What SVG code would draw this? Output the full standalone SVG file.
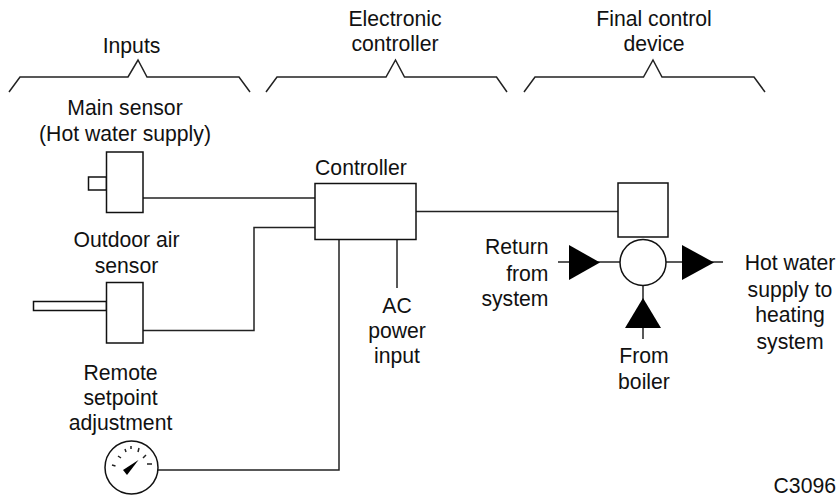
<svg xmlns="http://www.w3.org/2000/svg" width="837" height="498" viewBox="0 0 837 498">
<style>
text{font-family:"Liberation Sans",Arial,sans-serif;font-size:21.200px;fill:#111;text-anchor:middle}
.s{fill:#fff;stroke:#111;stroke-width:1.5}
.l{fill:none;stroke:#222;stroke-width:1.5}
.f{fill:#000;stroke:none}
</style>
<rect width="837" height="498" fill="#fff"/>
<g id="connectors">
<path class="l" d="M143 198H315"/>
<path class="l" d="M143 330.500H254V227.500H315"/>
<path class="l" d="M158 470H339V239.500"/>
<path class="l" d="M397 239.500V288"/>
<path class="l" d="M416 211.500H618"/>
<path class="l" d="M558 262H620"/>
<path class="l" d="M666 262H723"/>
<path class="l" d="M643 286V339"/>
</g>
<g id="bracket-inputs"><path class="l" d="M9 92L20 77H128L138 60L147 77H239L250 92"/><text x="131.500" y="53">Inputs</text></g>
<g id="bracket-controller"><path class="l" d="M266 92L277 77H386L395.500 60L404.500 77H496.500L507 92"/><text x="395" y="26">Electronic</text><text x="395" y="51">controller</text></g>
<g id="bracket-final"><path class="l" d="M524 92L535 77H643.500L653 60L662 77H754L765 92"/><text x="654" y="26">Final control</text><text x="654" y="51">device</text></g>
<g id="main-sensor">
<text x="125" y="115">Main sensor</text><text x="125" y="141">(Hot water supply)</text>
<rect class="s" x="88.500" y="177" width="18" height="13"/>
<rect class="s" x="106.500" y="152" width="36.500" height="60.500"/>
</g>
<g id="outdoor-sensor">
<text x="126.500" y="247">Outdoor air</text><text x="126.500" y="273">sensor</text>
<rect class="s" x="33.500" y="301.500" width="73" height="9"/>
<rect class="s" x="106.500" y="282.500" width="36.500" height="60.500"/>
</g>
<g id="remote-setpoint">
<text x="120.500" y="380">Remote</text><text x="120.500" y="405">setpoint</text><text x="120.500" y="430">adjustment</text>
<circle class="s" cx="131.500" cy="467.500" r="26.500"/>
<path class="l" d="M112 465L115.500 466M118 456L121 458M125 449L126 452M131 446V449M139 448L138 452M146 455L143 458M152 464H147"/>
<path class="f" d="M138.500 460L123 470L127 475Z"/>
</g>
<g id="controller">
<text x="361" y="175">Controller</text>
<rect class="s" x="315" y="183.500" width="101" height="56"/>
</g>
<g id="ac-power"><text x="397" y="313">AC</text><text x="397" y="338">power</text><text x="397" y="363">input</text></g>
<g id="actuator"><rect class="s" x="618" y="183" width="50" height="54"/></g>
<g id="valve"><circle class="s" cx="643" cy="262.500" r="23"/></g>
<g id="return-arrow"><path class="f" d="M569 245L600 262.500L569 280Z"/><text x="548.500" y="254" style="text-anchor:end">Return</text><text x="548.500" y="281" style="text-anchor:end">from</text><text x="548.500" y="306" style="text-anchor:end">system</text></g>
<g id="supply-arrow"><path class="f" d="M682 245L714 262.500L682 280Z"/><text x="790" y="270">Hot water</text><text x="790" y="297">supply to</text><text x="790" y="322">heating</text><text x="790" y="349">system</text></g>
<g id="boiler-arrow"><path class="f" d="M643 298L661 328H625Z"/><text x="644" y="363">From</text><text x="644" y="389">boiler</text></g>
<text id="code" x="836" y="493" style="text-anchor:end">C3096</text>
</svg>
